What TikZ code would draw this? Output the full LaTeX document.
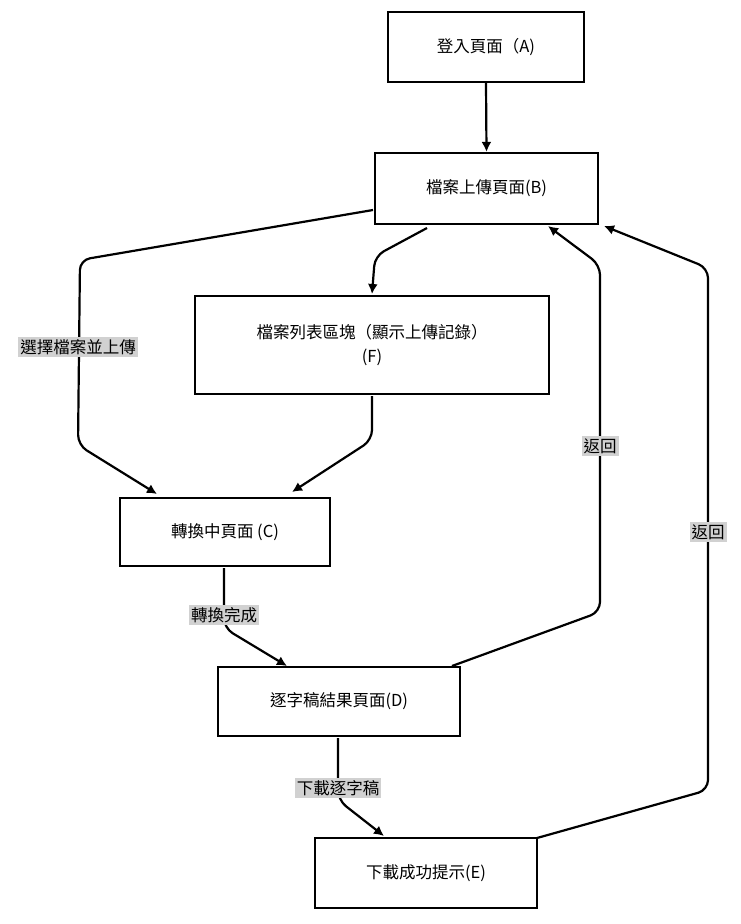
\documentclass[tikz,border=0pt]{standalone}
\usepackage{fontspec}
\setmainfont{Noto Sans CJK TC}
\usetikzlibrary{arrows.meta}
\begin{document}
\begin{tikzpicture}[x=1pt,y=-1pt,
  box/.style={draw,line width=2.2pt,inner sep=0pt,font=\fontsize{16.5}{24}\selectfont,align=center},
  ed/.style={line width=2.2pt,-{Latex[length=10pt,width=10pt]},rounded corners=10pt},
  lab/.style={fill=black!18,inner sep=2pt,font=\fontsize{16.5}{19}\selectfont}]
\useasboundingbox (0,0) rectangle (740,924);
\node[box,minimum width=196pt,minimum height=70pt] (A) at (486,47) {登入頁面（A)};
\node[box,minimum width=223pt,minimum height=71pt] (B) at (486.5,188.5) {檔案上傳頁面(B)};
\node[box,minimum width=354pt,minimum height=98pt] (F) at (372,345) {檔案列表區塊（顯示上傳記錄）\\(F)};
\node[box,minimum width=210pt,minimum height=68pt] (C) at (225,532) {轉換中頁面 (C)};
\node[box,minimum width=242pt,minimum height=69pt] (D) at (339,701.5) {逐字稿結果頁面(D)};
\node[box,minimum width=222pt,minimum height=70pt] (E) at (426,873) {下載成功提示(E)};
\coordinate (b1) at (427,228); \coordinate (f1) at (372,294);
\draw[ed] (A.south) -- (B.north);
\draw[ed] (b1) -- (375,256) -- (f1);
\draw[ed] (373,210) -- (80,260) -- (78,445) -- (157,494);
\node[lab] (l1) at (78,347) {選擇檔案並上傳};
\draw[ed] (372,396) -- (372,440) -- (292,492);
\draw[ed] (224,568) -- (224,628) -- (287,666);
\node[lab] (l2) at (224,615) {轉換完成};
\draw[ed] (452,666) -- (600,612) -- (600,265) -- (548,226);
\node[lab] (l3) at (600,446) {返回};
\draw[ed] (537,838) -- (708,790) -- (708,268) -- (604,226);
\node[lab] (l4) at (708,532) {返回};
\draw[ed] (338,738) -- (338,800) -- (384,836);
\node[lab] (l5) at (338,788) {下載逐字稿};
\end{tikzpicture}
\end{document}
